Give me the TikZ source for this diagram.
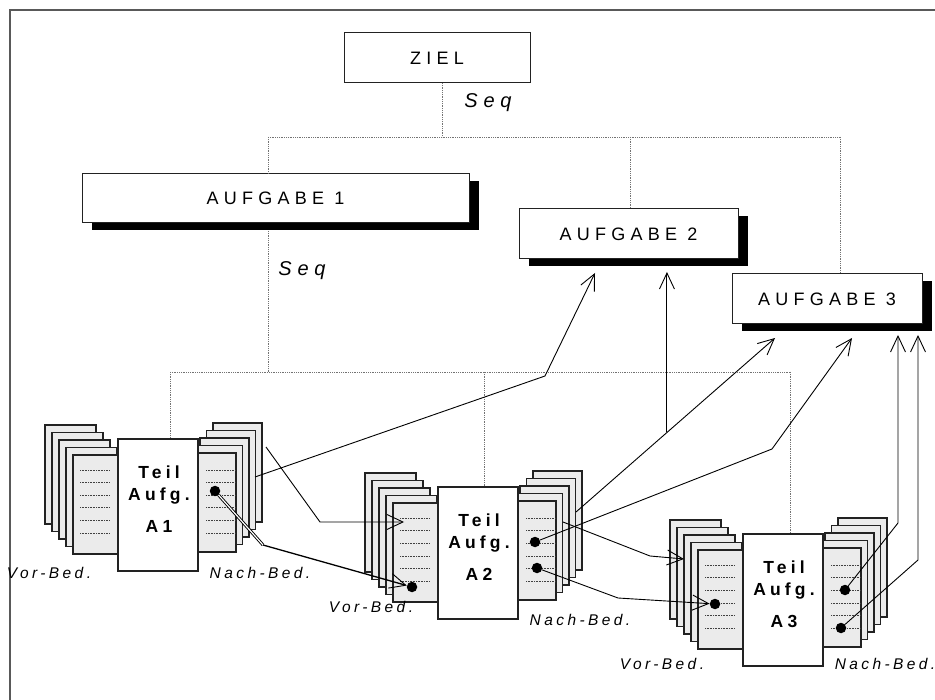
\documentclass[tikz,border=0pt]{standalone}
\usepackage{fontspec}
\setmainfont{Liberation Sans}
\newfontfamily\spcA[LetterSpace=29]{Liberation Sans}
\newfontfamily\spcB[LetterSpace=24]{Liberation Sans}
\newfontfamily\spcC[LetterSpace=22]{Liberation Sans}
\usetikzlibrary{arrows.meta,shadows,calc}
\definecolor{sheetfill}{HTML}{EBEBEB}
\definecolor{edgec}{HTML}{222222}
\newcommand{\teilblock}[4]{%
\begin{scope}[shift={(#1,#2)}]
 \foreach \i in {0,...,4} { \draw[sheet] ({45+7*\i},{425+7.5*\i}) rectangle ++(51,99); }
 \foreach \i in {0,...,4} { \draw[sheet] ({262-6.5*\i},{423+7.5*\i}) rectangle ++(-49,99); }
 \foreach \k in {0,...,5} {
   \draw[rowline] (80,{470+12.6*\k}) -- (110,{470+12.6*\k});
   \draw[rowline] (206,{470+12.6*\k}) -- (235,{470+12.6*\k}); }
 \node[mainbox, minimum width=80pt, minimum height=132pt] (#3) at (158,505) {};
 \node[teiltext] (#3t) at (159,499) {Teil\\Aufg.\\[10pt]A#4};
\end{scope}}

\begin{document}
\begin{tikzpicture}[x=1pt,y=-1pt,
  abox/.style={draw=edgec, line width=1pt, fill=white, inner sep=0pt},
  shad/.style={drop shadow={shadow xshift=10pt, shadow yshift=-7pt, fill=black, opacity=1}},
  tree/.style={draw=black!55, densely dotted, line width=0.8pt},
  sheet/.style={draw=edgec, fill=sheetfill, line width=1.1pt},
  mainbox/.style={draw=edgec, fill=white, line width=1.1pt, inner sep=0pt},
  rowline/.style={draw=black!75, densely dotted, line width=0.6pt},
  dot/.style={circle, fill=black, inner sep=0pt, minimum size=10.5pt},
  conn/.style={draw=black, line width=0.9pt},
  arr/.style={conn, -{Straight Barb[length=16pt,width=15pt,line width=0.9pt]}},
  lbl/.style={font=\spcC\itshape\fontsize{15.5}{17}\selectfont},
  ttl/.style={font=\spcA\fontsize{18}{20}\selectfont},
  seqs/.style={font=\spcA\itshape\fontsize{20}{22}\selectfont},
  teiltext/.style={font=\spcB\bfseries\fontsize{17.5}{22}\selectfont, align=center, inner sep=0pt},
]
\useasboundingbox (0,0) rectangle (935,700);
\fill[white] (0,0) rectangle (935,700);
\draw[black!65, line width=1.5pt] (10,700) -- (10,10) -- (935,10);

% top boxes
\node[abox, minimum width=186pt, minimum height=50pt, ttl] (ziel) at (437,58) {ZIEL};
\node[abox, shad, minimum width=387pt, minimum height=49pt, ttl] (auf1) at (275.5,198.5) {AUFGABE 1};
\node[abox, shad, minimum width=219pt, minimum height=50pt, ttl] (auf2) at (628.5,234) {AUFGABE 2};
\node[abox, shad, minimum width=190pt, minimum height=50pt, ttl] (auf3) at (827,299) {AUFGABE 3};
\node[seqs] (seq1) at (488,103) {Seq};
\node[seqs] (seq2) at (302,271) {Seq};

% blocks
\teilblock{0}{0}{A1}{1}
\teilblock{320}{48}{A2}{2}
\teilblock{625}{95}{A3}{3}

% tree lines
\coordinate (zs) at (442,83);
\coordinate (h1) at (268,137);
\coordinate (h1r) at (840,137);
\coordinate (v2) at (630,137);
\coordinate (u1) at (268,231);
\coordinate (h2l) at (170,372);
\coordinate (h2r) at (790,372);
\coordinate (v1b) at (268,372);
\coordinate (vA2) at (484,372);
\draw[tree] (zs) -- (zs |- h1);
\draw[tree] (h1) -- (h1r);
\draw[tree] (h1) -- (h1 |- auf1.north);
\draw[tree] (v2) -- (v2 |- auf2.north);
\draw[tree] (h1r) -- (h1r |- auf3.north);
\draw[tree] (u1) -- (v1b);
\draw[tree] (h2l) -- (h2r);
\draw[tree] (h2l) -- (h2l |- A1.north);
\draw[tree] (vA2) -- (vA2 |- A2.north);
\draw[tree] (h2r) -- (h2r |- A3.north);

% dots
\node[dot] (d1) at (215,491) {};
\node[dot] (d2l) at (412,587) {};
\node[dot] (d2a) at (535,542) {};
\node[dot] (d2b) at (537,568) {};
\node[dot] (d3l) at (715,604) {};
\node[dot] (d3a) at (845,590) {};
\node[dot] (d3b) at (841,628) {};

% connectors
\coordinate (s1) at (255,477); \coordinate (b1) at (545,376); \coordinate (t1) at (595,273);
\draw[arr] (s1) -- (b1) -- (t1);
\coordinate (s2) at (266,447); \coordinate (b2) at (320,522); \coordinate (t2) at (404,522);
\draw[arr] (s2) -- (b2) -- (t2);
\coordinate (b3) at (263,545);
\draw[conn, double, double distance=1.2pt] (d1) -- (b3);
\draw[arr, line width=1.3pt] (b3) -- (d2l);
\coordinate (s4) at (576,512); \coordinate (t4) at (775,338); \coordinate (t4b) at (667,272);
\draw[arr] (s4) -- (t4) coordinate[pos=0.457] (j4);
\draw[arr] (j4) -- (j4 |- t4b);
\coordinate (b5) at (772,449); \coordinate (t5) at (852,338);
\draw[arr] (d2a) -- (b5) -- (t5);
\coordinate (s6) at (563,522); \coordinate (b6) at (650,556); \coordinate (t6) at (684,559);
\draw[arr] (s6) -- (b6) -- (t6);
\coordinate (b7) at (618,598);
\draw[arr] (d2b) -- (b7) -- (d3l);
\coordinate (b8) at (898,523); \coordinate (t8) at (898,335);
\draw[arr] (d3a) -- (b8) -- (t8);
\coordinate (b9) at (918,560); \coordinate (t9) at (918,335);
\draw[arr] (d3b) -- (b9) -- (t9);

% labels
\node[lbl] (vb1) at (49,573) {Vor-Bed.};
\node[lbl] (nb1) at (260,573) {Nach-Bed.};
\node[lbl] (vb2) at (371,607) {Vor-Bed.};
\node[lbl] (nb2) at (580,620) {Nach-Bed.};
\node[lbl] (vb3) at (662,664) {Vor-Bed.};
\node[lbl] (nb3) at (885,664) {Nach-Bed.};
\end{tikzpicture}
\end{document}
